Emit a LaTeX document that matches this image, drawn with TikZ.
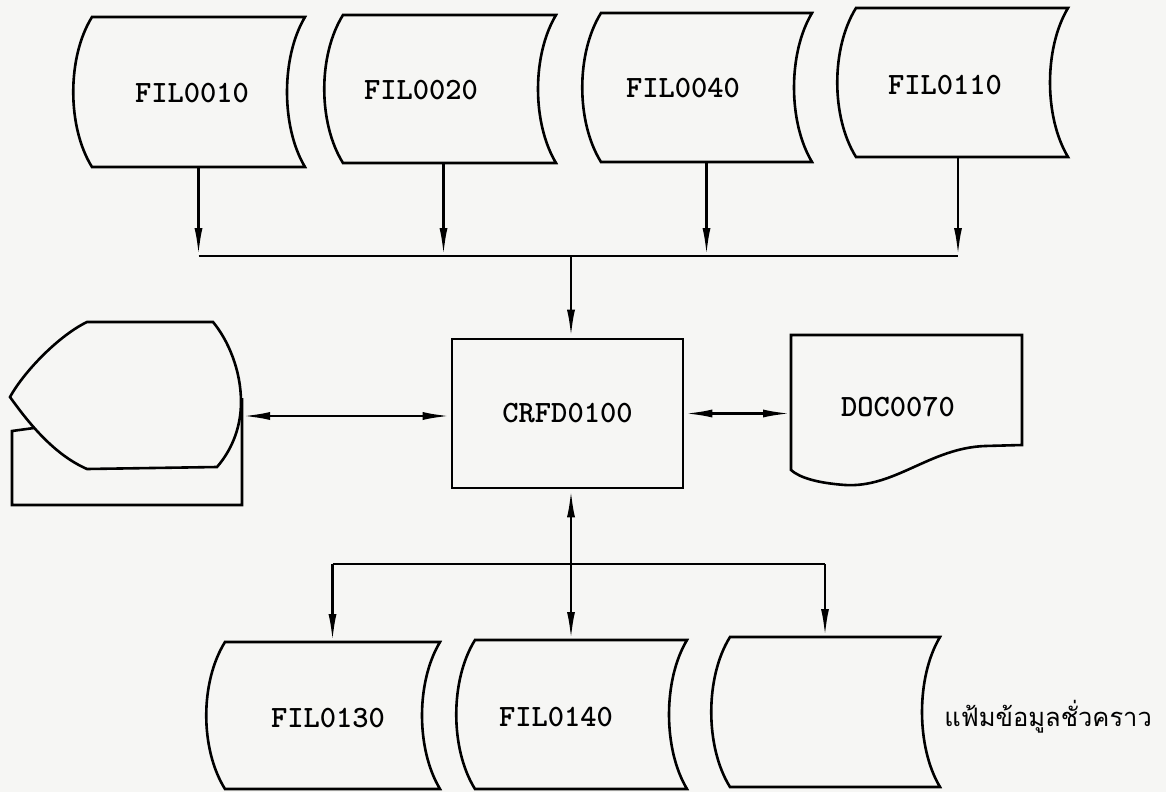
\documentclass[tikz,border=0pt]{standalone}
\usepackage{fontspec}
\newfontfamily\thaifont[Script=Thai]{Loma}
\usetikzlibrary{calc,arrows.meta}
\newcommand\fileoutline[1]{%
  \draw (#1.north west) -- (#1.north east)
    .. controls ($(#1.north east)+(-24,40)$) and ($(#1.south east)+(-24,-40)$) .. (#1.south east)
    -- (#1.south west)
    .. controls ($(#1.south west)+(-25,-40)$) and ($(#1.north west)+(-25,40)$) .. (#1.north west) -- cycle;}
\begin{document}
\begin{tikzpicture}[x=1pt,y=-1pt,
  line width=2.6pt,
  arr/.style={-{Latex[length=28pt,width=8pt]}},
  arr2/.style={{Latex[length=28pt,width=8pt]}-{Latex[length=28pt,width=8pt]}},
  anchorbox/.style={inner sep=0pt, outer sep=0pt, draw=none},
  lbl/.style={font=\ttfamily\bfseries\fontsize{31}{34}\selectfont, inner sep=0pt},
]
\useasboundingbox[fill={rgb,255:red,246;green,246;blue,244}] (0,0) rectangle (1166,792);

% top files
\node[anchorbox, minimum width=213pt, minimum height=150pt] (f10) at (198.5,92) {};
\node[anchorbox, minimum width=213pt, minimum height=148pt] (f20) at (449.5,89) {};
\node[anchorbox, minimum width=211pt, minimum height=149pt] (f40) at (706.5,87.5) {};
\node[anchorbox, minimum width=212pt, minimum height=149pt] (f110) at (962,82.5) {};
\fileoutline{f10}\fileoutline{f20}\fileoutline{f40}\fileoutline{f110}
\node[lbl] (t10) at (192,93) {FIL0010};
\node[lbl] (t20) at (421,90) {FIL0020};
\node[lbl] (t40) at (683,88) {FIL0040};
\node[lbl] (t110) at (945,85) {FIL0110};

% bottom files
\node[anchorbox, minimum width=215pt, minimum height=147pt] (f130) at (332.5,715.5) {};
\node[anchorbox, minimum width=212pt, minimum height=149pt] (f140) at (581,714.5) {};
\node[anchorbox, minimum width=210pt, minimum height=150pt] (ftmp) at (835,712) {};
\fileoutline{f130}\fileoutline{f140}\fileoutline{ftmp}
\node[lbl] (t130) at (328,718) {FIL0130};
\node[lbl] (t140) at (556,717) {FIL0140};
\node[font=\thaifont\fontsize{25.5}{30}\selectfont, anchor=west, inner sep=0pt] (tmptxt) at (943,717) {แฟ้มข้อมูลชั่วคราว};

% process
\node[draw, lbl, minimum width=231pt, minimum height=149pt] (crfd) at (567.5,413.5) {CRFD0100};

% display with card
\node[anchorbox, minimum width=232pt, minimum height=188pt] (disp) at (126,416) {};
\draw (87,322) -- (213,322) .. controls (228,340) and (241,370) .. (241,402)
  .. controls (241,430) and (230,452) .. (217,467) -- (87,469)
  .. controls (55,455) and (30,425) .. (10,397)
  .. controls (25,370) and (60,335) .. (87,322) -- cycle;
\draw (34,428) -- (12,431) -- (12,505) -- (242,505) -- (242,398);

% document
\node[anchorbox, minimum width=231pt, minimum height=150pt] (doc) at (906.5,410) {};
\draw (791,335) -- (1022,335) -- (1022,445) -- (985,446)
  .. controls (930,448) and (895,488) .. (845,485)
  .. controls (818,483) and (800,478) .. (791,470) -- cycle;
\node[lbl] (tdoc) at (898,407) {DOC0070};

% top bus
\coordinate (bus) at (571,256);
\coordinate (b10) at (f10.south |- bus);
\coordinate (b20) at ([xshift=-6pt]f20.south |- bus);
\coordinate (b40) at (f40.south |- bus);
\coordinate (b110) at ([xshift=-4pt]f110.south |- bus);
\draw[arr] (f10.south) -- (b10);
\draw[arr] ([xshift=-6pt]f20.south) -- (b20);
\draw[arr] (f40.south) -- (b40);
\draw[arr] ([xshift=-4pt]f110.south) -- (b110);
\draw (b10) -- (b110);
\draw[arr] (bus) -- (bus |- crfd.north);

% side connectors
\draw[arr2] (disp.east) -- (disp.east -| crfd.west);
\draw[arr2] (crfd.east) -- (crfd.east -| doc.west);

% bottom bus
\coordinate (bbus) at (571,564);
\draw[arr2] (bus |- crfd.south) -- (bus |- f140.north);
\draw (f130.north |- bbus) -- ([xshift=-10pt]ftmp.north |- bbus);
\draw[arr] (f130.north |- bbus) -- (f130.north);
\draw[arr] ([xshift=-10pt]ftmp.north |- bbus) -- ([xshift=-10pt]ftmp.north);
\end{tikzpicture}
\end{document}
